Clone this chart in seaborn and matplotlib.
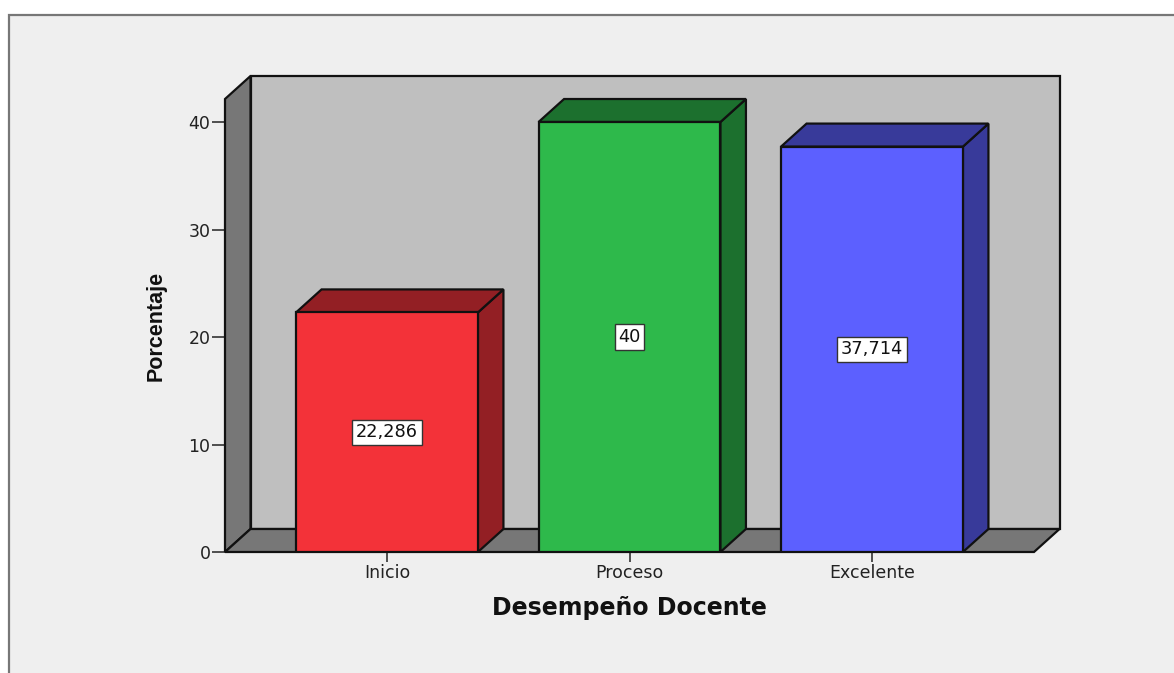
# =========================================
# DESEMPENO DOCENTE - 3D STYLE BAR CHART
# =========================================

import matplotlib
matplotlib.use("Agg")

import matplotlib.pyplot as plt
import pandas as pd
import seaborn as sns
from matplotlib.patches import Polygon, Rectangle


# =========================================
# DATA
# =========================================

categories = ["Inicio", "Proceso", "Excelente"]
values = [22.286, 40, 37.714]
value_labels = ["22,286", "40", "37,714"]
y_ticks = [0, 10, 20, 30, 40]

front_colors = ["#f33239", "#2eb94b", "#5c60ff"]
dark_colors = ["#931f24", "#1c702e", "#383a9a"]

# depth of the fake 3D box, in data units
DEPTH_X = 25.5 / 242.5
DEPTH_Y = 23 / 10.75

WIDTH, HEIGHT = 1174, 673


def box_face(ax, points, color, zorder):
    ax.add_patch(Polygon(points, closed=True, facecolor=color, edgecolor="#111111",
                         linewidth=1.6, zorder=zorder, clip_on=False))


# =========================================
# FIGURE AND PANEL
# =========================================

sns.set_style("white")
plt.rcParams["font.family"] = ["DejaVu Sans"]

fig = plt.figure(figsize=(WIDTH / 100, HEIGHT / 100), dpi=100, facecolor="white")

fig.add_artist(Rectangle((9 / WIDTH, -0.05), 1.1, (HEIGHT - 15) / HEIGHT + 0.05,
                         transform=fig.transFigure, facecolor="#efefef",
                         edgecolor="#777777", linewidth=1.6, zorder=-1))

ax = fig.add_axes([225 / WIDTH, (HEIGHT - 552) / HEIGHT, 809 / WIDTH, 453 / HEIGHT])
ax.patch.set_alpha(0)


# =========================================
# BARS
# =========================================

df = pd.DataFrame({"categoria": categories, "porcentaje": values})

sns.barplot(
    data=df,
    x="categoria",
    y="porcentaje",
    hue="categoria",
    palette=front_colors,
    saturation=1,
    width=0.75,
    edgecolor="#111111",
    linewidth=1.6,
    legend=False,
    ax=ax,
    zorder=5
)

ax.set_xlim(-0.668, 2.668)
ax.set_ylim(0, 42.14)

x0, x1 = ax.get_xlim()
y0, y1 = ax.get_ylim()


# =========================================
# WALLS AND FLOOR
# =========================================

box_face(ax, [(x0 + DEPTH_X, y0 + DEPTH_Y), (x1 + DEPTH_X, y0 + DEPTH_Y),
              (x1 + DEPTH_X, y1 + DEPTH_Y), (x0 + DEPTH_X, y1 + DEPTH_Y)], "#bfbfbf", 1)
box_face(ax, [(x0, y0), (x0 + DEPTH_X, y0 + DEPTH_Y),
              (x0 + DEPTH_X, y1 + DEPTH_Y), (x0, y1)], "#777777", 2)
box_face(ax, [(x0, y0), (x0 + DEPTH_X, y0 + DEPTH_Y),
              (x1 + DEPTH_X, y0 + DEPTH_Y), (x1, y0)], "#777777", 2)


# =========================================
# BAR SIDES, TOPS AND LABELS
# =========================================

for bar, dark, label in zip(ax.patches[:3], dark_colors, value_labels):
    left = bar.get_x()
    right = left + bar.get_width()
    top = bar.get_height()

    box_face(ax, [(right, 0), (right + DEPTH_X, DEPTH_Y),
                  (right + DEPTH_X, top + DEPTH_Y), (right, top)], dark, 3)
    box_face(ax, [(left, top), (left + DEPTH_X, top + DEPTH_Y),
                  (right + DEPTH_X, top + DEPTH_Y), (right, top)], dark, 3)

    ax.text(left + bar.get_width() / 2, top / 2, label, ha="center", va="center",
            fontsize=12.8, color="#111111", zorder=6,
            bbox=dict(boxstyle="square,pad=0.2", facecolor="white",
                      edgecolor="#333333", linewidth=1.0))


# =========================================
# AXES TEXT
# =========================================

ax.set_yticks(y_ticks)
ax.tick_params(axis="y", length=9.5, width=1.2, color="#333333", pad=1,
               labelsize=12.5, labelcolor="#222222", left=True)
ax.tick_params(axis="x", length=7.5, width=1.2, color="#333333", pad=1,
               labelsize=12.5, labelcolor="#222222", bottom=True)

ax.set_xlabel("Desempeño Docente", fontsize=17, fontweight="bold", color="#111111", labelpad=10.5)
ax.set_ylabel("Porcentaje", fontsize=15.5, fontweight="bold", color="#111111", labelpad=16,
              family="Liberation Sans")

sns.despine(ax=ax, left=True, bottom=True)

plt.savefig("out.png", dpi=100)
